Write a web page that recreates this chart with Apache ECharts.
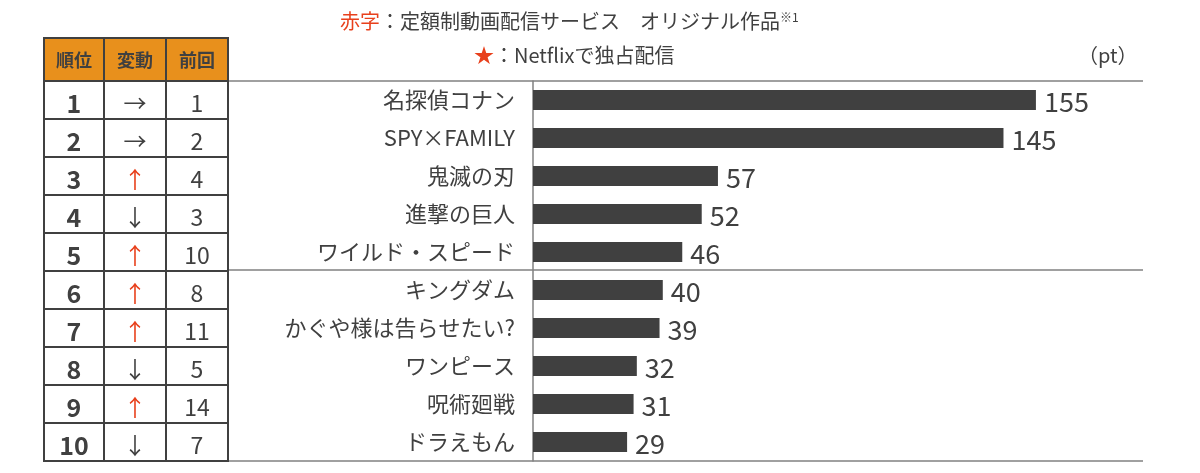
<!DOCTYPE html>
<html><head><meta charset="utf-8">
<script src="https://cdn.jsdelivr.net/npm/echarts@6/dist/echarts.min.js"></script>
<style>html,body{margin:0;padding:0;background:#fff}#c{width:1200px;height:473px}</style>
</head><body><div id="c"></div>
<script>
const categories = ['名探偵コナン','SPY×FAMILY','鬼滅の刃','進撃の巨人','ワイルド・スピード','キングダム','かぐや様は告らせたい?','ワンピース','呪術廻戦','ドラえもん'];
const values = [155,145,57,52,46,40,39,32,31,29];
const ranks = ['1','2','3','4','5','6','7','8','9','10'];
const moves = ['→','→','↑','↓','↑','↑','↑','↓','↑','↓'];
const previous = ['1','2','4','3','10','8','11','5','14','7'];
const headers = ['順位','変動','前回'];

const F = '"Noto Sans CJK JP", "Noto Sans", sans-serif';
const TXT = '#404040', RED = '#E8401C', ORANGE = '#E8901C';
const cols = [[44,104],[104,166],[166,228]];
const chart = echarts.init(document.getElementById('c'));

function renderRow(params, api) {
  const i = api.value(0);
  const y = api.coord([0, i])[1];
  const h = api.size([0, 1])[1];
  const top = y - h/2;
  const children = [];
  const texts = [ranks[i], moves[i], previous[i]];
  cols.forEach((c, k) => {
    children.push({type:'rect', shape:{x:c[0], y:top, width:c[1]-c[0], height:h},
      style:{fill:'#fff', stroke:TXT, lineWidth:2}});
    children.push({type:'text', style:{text:texts[k], x:(c[0]+c[1])/2, y:y+3, align:'center', verticalAlign:'middle',
      font:(k===0?'bold 25px ':'23px ')+F, fill:(k===1 && moves[i]==='↑')?RED:TXT}});
  });
  return {type:'group', children};
}

const graphics = [
  {type:'text', left:340, top:11, style:{rich:{r:{fill:RED,font:'20px '+F},b:{fill:TXT,font:'20px '+F},s:{fill:TXT,font:'12px '+F,verticalAlign:'top',padding:[0,0,8,0]}}, text:'{r|赤字}{b|：定額制動画配信サービス　オリジナル作品}{s|※1}'}},
  {type:'text', left:474, top:45, style:{rich:{r:{fill:RED,font:'20px '+F},b:{fill:TXT,font:'20px '+F}}, text:'{r|★}{b|：Netflixで独占配信}'}},
  {type:'text', left:1078, top:45, style:{text:'（pt）', fill:TXT, font:'20px '+F}},
  {type:'line', shape:{x1:228,y1:81,x2:1143,y2:81}, style:{stroke:'#808080',lineWidth:1.5}},
  {type:'line', shape:{x1:228,y1:270,x2:1143,y2:270}, style:{stroke:'#808080',lineWidth:1.5}},
  {type:'line', shape:{x1:228,y1:461,x2:1143,y2:461}, style:{stroke:'#808080',lineWidth:1.5}}
];
cols.forEach((c,k)=>{
  graphics.push({type:'rect', shape:{x:c[0],y:38,width:c[1]-c[0],height:43}, style:{fill:ORANGE,stroke:TXT,lineWidth:2}});
  graphics.push({type:'text', style:{text:headers[k], x:(c[0]+c[1])/2, y:60, align:'center', verticalAlign:'middle', font:'bold 18px '+F, fill:TXT}});
});

chart.setOption({
  animation:false,
  grid:{left:533, right:57, top:81, bottom:12},
  xAxis:{type:'value', min:0, max:188, show:false},
  yAxis:{type:'category', data:categories, inverse:true,
    axisLine:{lineStyle:{color:'#808080',width:1.5}}, axisTick:{show:false},
    axisLabel:{color:TXT, fontSize:22, fontFamily:F, margin:18}},
  series:[
    {type:'bar', data:values, barWidth:20, itemStyle:{color:'#404040'},
      label:{show:true, position:'right', distance:8, color:TXT, fontSize:27, fontFamily:F, offset:[0,2]}},
    {type:'custom', renderItem:renderRow, data:ranks.map((_,i)=>[i]), encode:{y:0}, clip:false, z:1}
  ],
  graphic:graphics
});
</script></body></html>
